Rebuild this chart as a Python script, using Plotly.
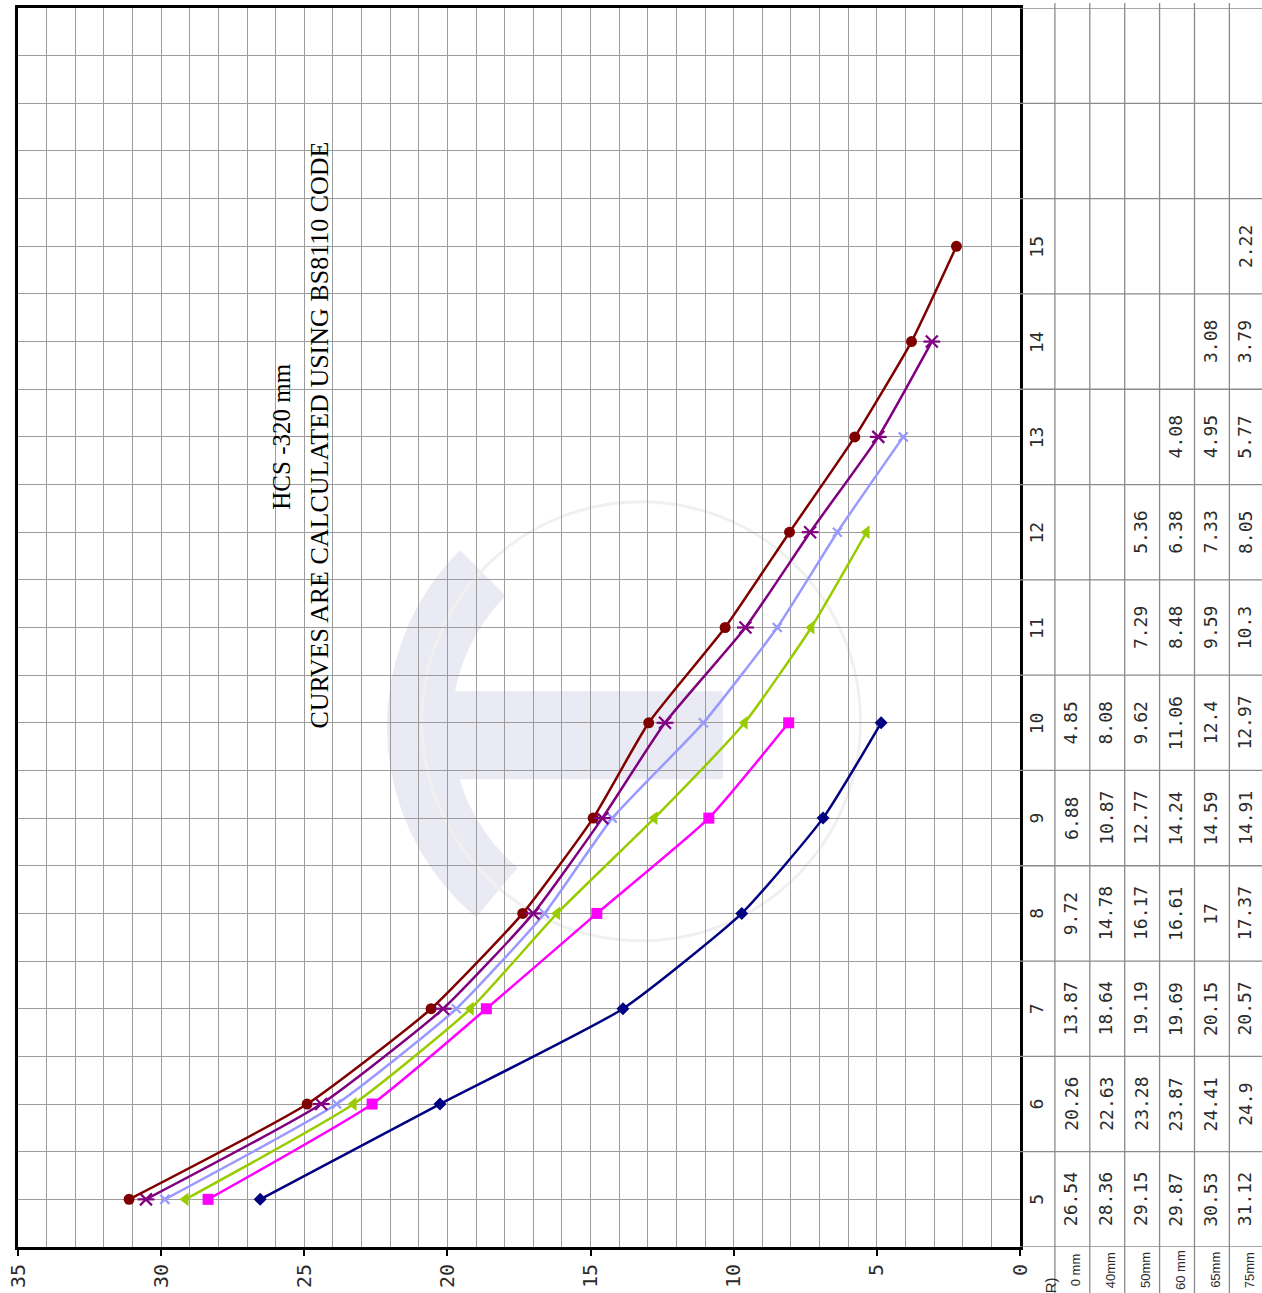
import math
import plotly.graph_objects as go

# Span categories (m) and the load capacity of each section (kN/m2)
spans = [5, 6, 7, 8, 9, 10, 11, 12, 13, 14, 15]
series_names = ["0 mm", "40mm", "50mm", "60 mm", "65mm", "75mm"]
s1 = [26.54, 20.26, 13.87, 9.72, 6.88, 4.85]
s2 = [28.36, 22.63, 18.64, 14.78, 10.87, 8.08]
s3 = [29.15, 23.28, 19.19, 16.17, 12.77, 9.62, 7.29, 5.36]
s4 = [29.87, 23.87, 19.69, 16.61, 14.24, 11.06, 8.48, 6.38, 4.08]
s5 = [30.53, 24.41, 20.15, 17, 14.59, 12.4, 9.59, 7.33, 4.95, 3.08]
s6 = [31.12, 24.9, 20.57, 17.37, 14.91, 12.97, 10.3, 8.05, 5.77, 3.79, 2.22]
value_ticks = [0, 5, 10, 15, 20, 25, 30, 35]

series = [s1, s2, s3, s4, s5, s6]
colors = ["#000080", "#FF00FF", "#99CC00", "#9999FF", "#800080", "#800000"]
symbols = ["diamond", "square", "triangle-left", "x-thin-open", "x-thin-open", "circle"]
msizes = [10, 11, 12, 9, 12, 11]

W, H = 1262, 1293
L, R, T, B = 15, 242, 5, 46
PW, PH = W - L - R, H - T - B


def xp(px):
    return (px - L) / PW


def yp(py):
    return (H - B - py) / PH


fig = go.Figure()

for name, vals, col, sym, ms in zip(series_names, series, colors, symbols, msizes):
    is_x = sym.startswith("x")
    fig.add_trace(go.Scatter(
        x=vals, y=spans[:len(vals)], name=name, mode="lines+markers",
        line=dict(color=col, width=2.5, shape="spline", smoothing=0.5),
        marker=dict(symbol=sym, size=ms, color=col,
                    line=dict(color=col, width=2.2 if is_x else 0)),
        showlegend=False))

# star marker for the fifth series: the cross plus a bar
fig.add_trace(go.Scatter(
    x=s5, y=spans[:len(s5)], mode="markers", showlegend=False,
    marker=dict(symbol="line-ew-open", size=12, color=colors[4],
                line=dict(color=colors[4], width=2.2))))

shapes = []

# faint logo in the background
logo = "#EAEAF4"
cx, cy, ro, ri = 635, 725, 250, 185
pts_out = [(cx + ro * math.cos(math.radians(a)), cy - ro * math.sin(math.radians(a)))
           for a in range(135, 231, 5)]
pts_in = [(cx + ri * math.cos(math.radians(a)), cy - ri * math.sin(math.radians(a)))
          for a in range(230, 134, -5)]
path = "M " + " L ".join(f"{xp(a):.5f},{yp(b):.5f}" for a, b in pts_out + pts_in) + " Z"
shapes.append(dict(type="path", path=path, xref="paper", yref="paper",
                   fillcolor=logo, line=dict(width=0), layer="below"))
shapes.append(dict(type="rect", xref="paper", yref="paper",
                   x0=xp(450), x1=xp(722), y0=yp(690), y1=yp(778),
                   fillcolor=logo, line=dict(width=0), layer="below"))
shapes.append(dict(type="circle", xref="paper", yref="paper",
                   x0=xp(420), x1=xp(860), y0=yp(500), y1=yp(940),
                   line=dict(color="#F0F0F0", width=3), layer="below"))

# white box behind the note
shapes.append(dict(type="rect", xref="paper", yref="paper",
                   x0=xp(247), x1=xp(358), y0=yp(100), y1=yp(768),
                   fillcolor="white", line=dict(width=0), layer="between"))

# data table grid on the right
grid_col = "#8A8A8A"
for px in [1055, 1090, 1125, 1160, 1195, 1230]:
    shapes.append(dict(type="line", xref="paper", yref="paper",
                       x0=xp(px), x1=xp(px), y0=yp(0), y1=yp(H),
                       line=dict(color=grid_col, width=1.3)))
for k in range(14):
    yb = 4.5 + k
    shapes.append(dict(type="line", xref="paper", yref="y",
                       x0=xp(1020), x1=xp(W + 2), y0=yb, y1=yb,
                       line=dict(color=grid_col, width=1.3)))

annotations = []
mono = "DejaVu Sans Mono"
text_col = "#2B2B2B"
dx = 11  # rotated labels sit left of their anchor; push them back into the cell
for s in spans:
    annotations.append(dict(x=xp(1038 + dx), y=s, xref="paper", yref="y", text=str(s),
                            showarrow=False, textangle=-90,
                            font=dict(family=mono, size=18, color=text_col)))
col_centers = [1072.5, 1107.5, 1142.5, 1177.5, 1212.5, 1247]
for cxp, vals, name in zip(col_centers, series, series_names):
    for s, v in zip(spans, vals):
        annotations.append(dict(x=xp(cxp + dx), y=s, xref="paper", yref="y", text=f"{v:g}",
                                showarrow=False, textangle=-90,
                                font=dict(family=mono, size=18, color=text_col)))
    annotations.append(dict(x=xp(cxp + 4), y=yp(1270), xref="paper", yref="paper",
                            text=name, showarrow=False, textangle=-90,
                            xanchor="center", yanchor="middle",
                            font=dict(family="Liberation Sans", size=13, color=text_col)))
annotations.append(dict(x=xp(1040 + dx), y=yp(1276), xref="paper", yref="paper",
                        text="SPAN (METER)", showarrow=False, textangle=-90,
                        xanchor="center", yanchor="top",
                        font=dict(family="Liberation Sans", size=15, color=text_col)))

# note on the chart
annotations.append(dict(x=xp(264), y=yp(435), xref="paper", yref="paper",
                        text="HCS -320 mm", showarrow=False, textangle=-90,
                        font=dict(family="Liberation Serif", size=25, color="black")))
annotations.append(dict(x=xp(301), y=yp(433), xref="paper", yref="paper",
                        text="CURVES ARE CALCULATED USING BS8110 CODE",
                        showarrow=False, textangle=-90,
                        font=dict(family="Liberation Serif", size=26, color="black")))

fig.update_layout(
    width=W, height=H,
    margin=dict(l=L, r=R, t=T, b=B, pad=0),
    paper_bgcolor="white", plot_bgcolor="rgba(0,0,0,0)",
    shapes=shapes, annotations=annotations,
    xaxis=dict(range=[35, 0], tickvals=value_ticks, ticktext=[str(v) for v in value_ticks],
               tickangle=-90, ticks="outside", ticklen=6, tickwidth=1.5, tickcolor="black",
               tickfont=dict(family=mono, size=20, color=text_col),
               showgrid=True, gridcolor="#9C9C9C", gridwidth=1,
               minor=dict(dtick=1, showgrid=True, gridcolor="#9C9C9C", gridwidth=1),
               showline=True, linecolor="black", linewidth=3, mirror=True,
               zeroline=False),
    yaxis=dict(range=[4.5, 17.5], tick0=4.5, dtick=0.5, showticklabels=False,
               showgrid=True, gridcolor="#9C9C9C", gridwidth=1,
               showline=True, linecolor="black", linewidth=3, mirror=True,
               zeroline=False, ticks=""),
)

fig.write_html("out.html")
